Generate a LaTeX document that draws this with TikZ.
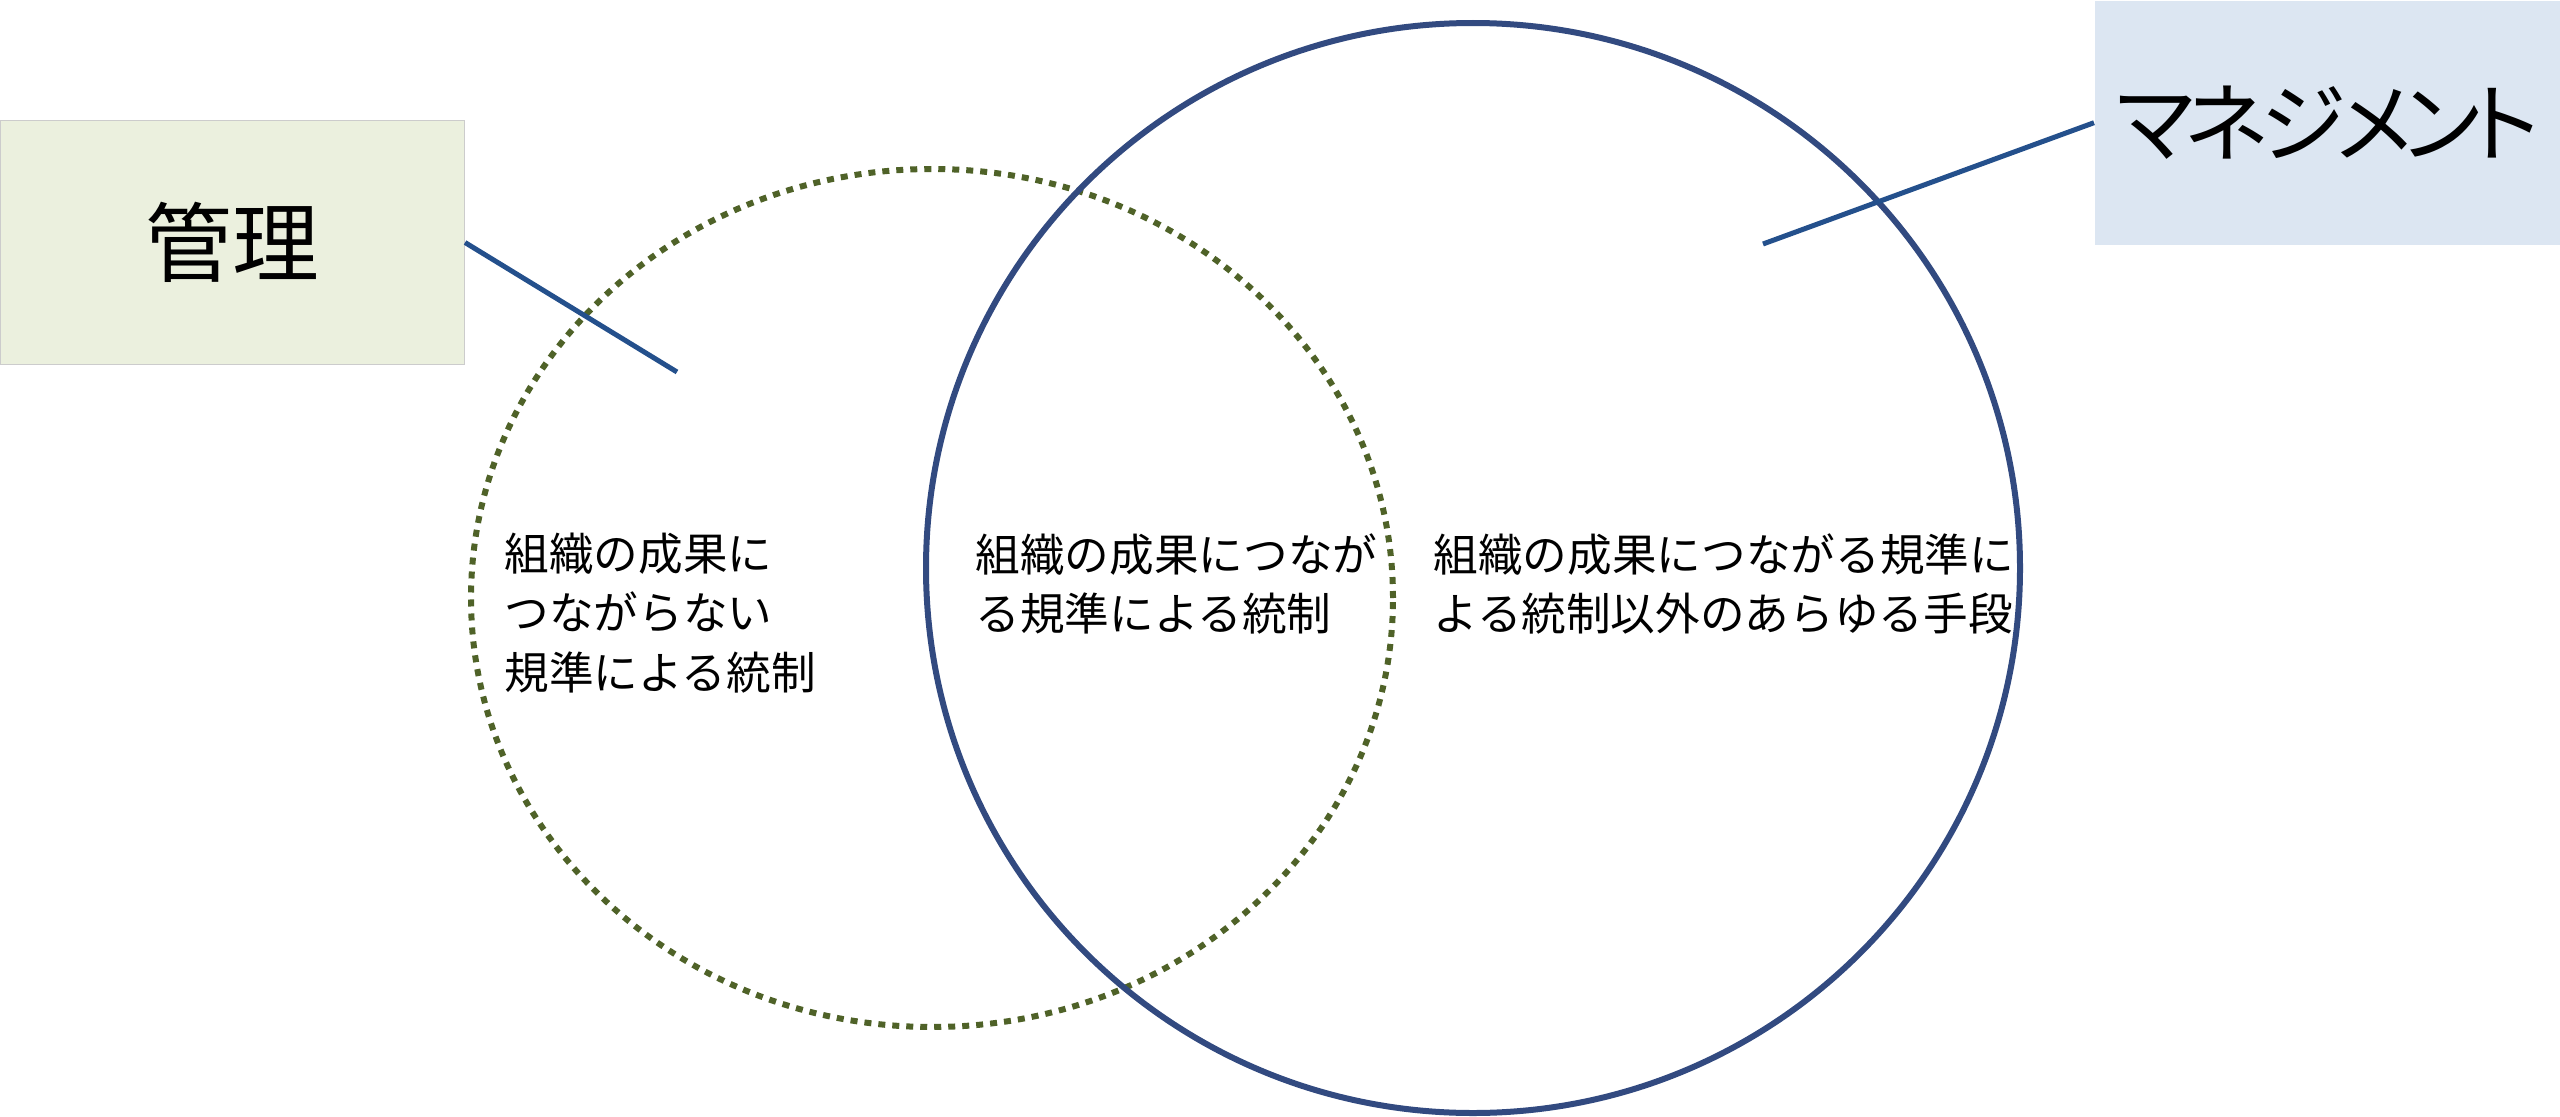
\documentclass[tikz,border=0pt]{standalone}
\usepackage{fontspec}
\newfontfamily\jp{Noto Sans CJK JP}
\newfontfamily\jpprop[RawFeature=+palt, LetterSpace=-10]{Noto Sans CJK JP}
\definecolor{azul}{RGB}{50,74,128}
\definecolor{oliva}{RGB}{79,98,40}
\definecolor{linea}{RGB}{36,80,140}
\definecolor{verdeclaro}{RGB}{235,240,222}
\definecolor{azulclaro}{RGB}{220,230,242}
\begin{document}
\begin{tikzpicture}
\tikzset{
    etiqueta/.style={inner sep=0pt, align=left, font=\jp\fontsize{12.7pt}{17pt}\selectfont},
    caja/.style={anchor=north west, inner sep=0pt, minimum width=4.64cm, minimum height=2.44cm, font=\fontsize{24.7pt}{30pt}\selectfont},
    guia/.style={draw=linea, line width=0.05cm}
}
\useasboundingbox (0,0) rectangle (25.6,-11.17);
\draw[oliva, line width=0.06cm, dash pattern=on 0.07cm off 0.07cm] (9.32,-5.98) ellipse [x radius=4.61, y radius=4.29];
\draw[azul, line width=0.06cm] (14.73,-5.68) ellipse [x radius=5.47, y radius=5.45];
\node[caja, fill=verdeclaro, draw=black!20, line width=0.3pt] (kanri) at (0,-1.20) {\jp 管理};
\node[caja, fill=azulclaro, minimum width=4.66cm] (manejo) at (20.94,0) {\jpprop マネジメント};
\coordinate (kanrifin) at (6.77,-3.72);
\coordinate (manejofin) at (17.63,-2.44);
\draw[guia] (kanri.east) -- (kanrifin);
\draw[guia] (manejo.west) -- (manejofin);
\node[etiqueta, anchor=west] (solokanri) at (5.04,-6.13) {組織の成果に\\つながらない\\規準による統制};
\node[etiqueta, anchor=west] (ambos) at (9.75,-5.84) {組織の成果につなが\\る規準による統制};
\node[etiqueta, anchor=west] (solomanejo) at (14.33,-5.84) {組織の成果につながる規準に\\よる統制以外のあらゆる手段};
\end{tikzpicture}
\end{document}
